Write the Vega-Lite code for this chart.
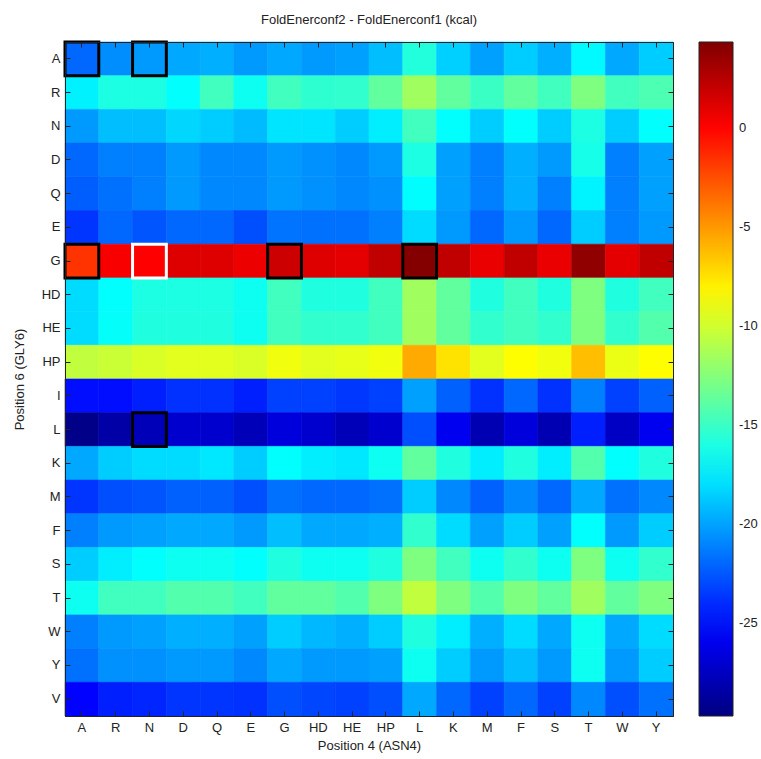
{
  "$schema": "https://vega.github.io/schema/vega-lite/v6.json",
  "autosize": "none",
  "width": 608,
  "height": 674,
  "padding": {"left": 65, "top": 42, "right": 88, "bottom": 43},
  "background": "white",
  "config": {
    "font": "Liberation Sans",
    "view": {"stroke": "#222222", "strokeWidth": 1},
    "axis": {"labelFont": "Liberation Sans", "titleFont": "Liberation Sans", "labelFontSize": 13, "titleFontSize": 13, "titleFontWeight": "normal", "labelColor": "#222222", "titleColor": "#222222", "domainColor": "#222222", "tickColor": "#222222", "tickSize": -5, "grid": false}
  },
  "title": {"text": "FoldEnerconf2 - FoldEnerconf1 (kcal)", "fontSize": 13, "fontWeight": "normal", "font": "Liberation Sans", "color": "#222222", "offset": 14},
  "datasets": {
    "cells": [
{"c":"A","r":"A","v":-22.0,"b":"black"},{"c":"R","r":"A","v":-20.7},{"c":"N","r":"A","v":-20.3,"b":"black"},{"c":"D","r":"A","v":-19.8},{"c":"Q","r":"A","v":-19.6},{"c":"E","r":"A","v":-20.3},{"c":"G","r":"A","v":-19.8},{"c":"HD","r":"A","v":-20.3},{"c":"HE","r":"A","v":-20.1},{"c":"HP","r":"A","v":-19.1},{"c":"L","r":"A","v":-15.8},{"c":"K","r":"A","v":-18.5},{"c":"M","r":"A","v":-20.1},{"c":"F","r":"A","v":-18.6},{"c":"S","r":"A","v":-19.6},{"c":"T","r":"A","v":-17.1},{"c":"W","r":"A","v":-19.8},{"c":"Y","r":"A","v":-18.6},
{"c":"A","r":"R","v":-17.4},{"c":"R","r":"R","v":-16.0},{"c":"N","r":"R","v":-16.0},{"c":"D","r":"R","v":-16.9},{"c":"Q","r":"R","v":-14.8},{"c":"E","r":"R","v":-16.5},{"c":"G","r":"R","v":-14.8},{"c":"HD","r":"R","v":-15.4},{"c":"HE","r":"R","v":-15.3},{"c":"HP","r":"R","v":-13.7},{"c":"L","r":"R","v":-11.6},{"c":"K","r":"R","v":-13.7},{"c":"M","r":"R","v":-15.0},{"c":"F","r":"R","v":-13.7},{"c":"S","r":"R","v":-14.8},{"c":"T","r":"R","v":-12.7},{"c":"W","r":"R","v":-14.8},{"c":"Y","r":"R","v":-14.4},
{"c":"A","r":"N","v":-20.3},{"c":"R","r":"N","v":-19.1},{"c":"N","r":"N","v":-19.1},{"c":"D","r":"N","v":-18.3},{"c":"Q","r":"N","v":-18.6},{"c":"E","r":"N","v":-19.2},{"c":"G","r":"N","v":-17.8},{"c":"HD","r":"N","v":-17.8},{"c":"HE","r":"N","v":-18.6},{"c":"HP","r":"N","v":-17.5},{"c":"L","r":"N","v":-14.8},{"c":"K","r":"N","v":-16.9},{"c":"M","r":"N","v":-18.6},{"c":"F","r":"N","v":-16.9},{"c":"S","r":"N","v":-18.6},{"c":"T","r":"N","v":-16.0},{"c":"W","r":"N","v":-18.6},{"c":"Y","r":"N","v":-16.9},
{"c":"A","r":"D","v":-22.0},{"c":"R","r":"D","v":-21.2},{"c":"N","r":"D","v":-21.2},{"c":"D","r":"D","v":-20.3},{"c":"Q","r":"D","v":-20.9},{"c":"E","r":"D","v":-20.9},{"c":"G","r":"D","v":-20.3},{"c":"HD","r":"D","v":-20.6},{"c":"HE","r":"D","v":-20.9},{"c":"HP","r":"D","v":-20.3},{"c":"L","r":"D","v":-16.0},{"c":"K","r":"D","v":-20.1},{"c":"M","r":"D","v":-21.2},{"c":"F","r":"D","v":-19.6},{"c":"S","r":"D","v":-20.3},{"c":"T","r":"D","v":-16.2},{"c":"W","r":"D","v":-21.2},{"c":"Y","r":"D","v":-20.1},
{"c":"A","r":"Q","v":-22.3},{"c":"R","r":"Q","v":-21.7},{"c":"N","r":"Q","v":-21.2},{"c":"D","r":"Q","v":-20.3},{"c":"Q","r":"Q","v":-20.9},{"c":"E","r":"Q","v":-20.9},{"c":"G","r":"Q","v":-20.3},{"c":"HD","r":"Q","v":-20.6},{"c":"HE","r":"Q","v":-20.9},{"c":"HP","r":"Q","v":-20.6},{"c":"L","r":"Q","v":-17.0},{"c":"K","r":"Q","v":-20.1},{"c":"M","r":"Q","v":-21.2},{"c":"F","r":"Q","v":-19.6},{"c":"S","r":"Q","v":-21.2},{"c":"T","r":"Q","v":-17.3},{"c":"W","r":"Q","v":-21.2},{"c":"Y","r":"Q","v":-20.1},
{"c":"A","r":"E","v":-23.7},{"c":"R","r":"E","v":-22.0},{"c":"N","r":"E","v":-22.6},{"c":"D","r":"E","v":-22.0},{"c":"Q","r":"E","v":-22.0},{"c":"E","r":"E","v":-22.8},{"c":"G","r":"E","v":-21.6},{"c":"HD","r":"E","v":-21.7},{"c":"HE","r":"E","v":-21.7},{"c":"HP","r":"E","v":-21.2},{"c":"L","r":"E","v":-18.1},{"c":"K","r":"E","v":-20.3},{"c":"M","r":"E","v":-22.0},{"c":"F","r":"E","v":-20.3},{"c":"S","r":"E","v":-22.0},{"c":"T","r":"E","v":-18.6},{"c":"W","r":"E","v":-21.2},{"c":"Y","r":"E","v":-20.3},
{"c":"A","r":"G","v":-1.6,"b":"black"},{"c":"R","r":"G","v":0.3},{"c":"N","r":"G","v":0.1,"b":"white"},{"c":"D","r":"G","v":1.2},{"c":"Q","r":"G","v":1.2},{"c":"E","r":"G","v":0.7},{"c":"G","r":"G","v":1.8,"b":"black"},{"c":"HD","r":"G","v":1.2},{"c":"HE","r":"G","v":1.0},{"c":"HP","r":"G","v":2.2},{"c":"L","r":"G","v":4.2,"b":"black"},{"c":"K","r":"G","v":2.2},{"c":"M","r":"G","v":0.8},{"c":"F","r":"G","v":2.2},{"c":"S","r":"G","v":0.8},{"c":"T","r":"G","v":3.8},{"c":"W","r":"G","v":1.0},{"c":"Y","r":"G","v":2.2},
{"c":"A","r":"HD","v":-18.1},{"c":"R","r":"HD","v":-16.9},{"c":"N","r":"HD","v":-16.0},{"c":"D","r":"HD","v":-16.0},{"c":"Q","r":"HD","v":-16.0},{"c":"E","r":"HD","v":-16.5},{"c":"G","r":"HD","v":-14.8},{"c":"HD","r":"HD","v":-15.9},{"c":"HE","r":"HD","v":-15.9},{"c":"HP","r":"HD","v":-14.8},{"c":"L","r":"HD","v":-11.6},{"c":"K","r":"HD","v":-13.7},{"c":"M","r":"HD","v":-15.9},{"c":"F","r":"HD","v":-14.8},{"c":"S","r":"HD","v":-15.9},{"c":"T","r":"HD","v":-12.7},{"c":"W","r":"HD","v":-15.9},{"c":"Y","r":"HD","v":-14.8},
{"c":"A","r":"HE","v":-18.1},{"c":"R","r":"HE","v":-16.8},{"c":"N","r":"HE","v":-15.9},{"c":"D","r":"HE","v":-15.9},{"c":"Q","r":"HE","v":-15.9},{"c":"E","r":"HE","v":-16.5},{"c":"G","r":"HE","v":-14.8},{"c":"HD","r":"HE","v":-15.3},{"c":"HE","r":"HE","v":-15.3},{"c":"HP","r":"HE","v":-14.8},{"c":"L","r":"HE","v":-11.6},{"c":"K","r":"HE","v":-13.7},{"c":"M","r":"HE","v":-15.3},{"c":"F","r":"HE","v":-14.8},{"c":"S","r":"HE","v":-15.3},{"c":"T","r":"HE","v":-12.7},{"c":"W","r":"HE","v":-15.3},{"c":"Y","r":"HE","v":-14.2},
{"c":"A","r":"HP","v":-10.5},{"c":"R","r":"HP","v":-10.2},{"c":"N","r":"HP","v":-9.7},{"c":"D","r":"HP","v":-9.4},{"c":"Q","r":"HP","v":-9.4},{"c":"E","r":"HP","v":-9.7},{"c":"G","r":"HP","v":-8.9},{"c":"HD","r":"HP","v":-9.4},{"c":"HE","r":"HP","v":-9.2},{"c":"HP","r":"HP","v":-8.9},{"c":"L","r":"HP","v":-5.6},{"c":"K","r":"HP","v":-7.5},{"c":"M","r":"HP","v":-9.4},{"c":"F","r":"HP","v":-8.4},{"c":"S","r":"HP","v":-8.9},{"c":"T","r":"HP","v":-6.3},{"c":"W","r":"HP","v":-9.1},{"c":"Y","r":"HP","v":-8.4},
{"c":"A","r":"I","v":-25.0},{"c":"R","r":"I","v":-25.0},{"c":"N","r":"I","v":-24.4},{"c":"D","r":"I","v":-23.8},{"c":"Q","r":"I","v":-23.8},{"c":"E","r":"I","v":-24.4},{"c":"G","r":"I","v":-23.3},{"c":"HD","r":"I","v":-23.3},{"c":"HE","r":"I","v":-23.6},{"c":"HP","r":"I","v":-23.3},{"c":"L","r":"I","v":-20.1},{"c":"K","r":"I","v":-22.2},{"c":"M","r":"I","v":-23.8},{"c":"F","r":"I","v":-22.0},{"c":"S","r":"I","v":-23.8},{"c":"T","r":"I","v":-21.2},{"c":"W","r":"I","v":-23.3},{"c":"Y","r":"I","v":-22.2},
{"c":"A","r":"L","v":-29.4},{"c":"R","r":"L","v":-28.4},{"c":"N","r":"L","v":-27.8,"b":"black"},{"c":"D","r":"L","v":-27.1},{"c":"Q","r":"L","v":-27.1},{"c":"E","r":"L","v":-27.8},{"c":"G","r":"L","v":-26.6},{"c":"HD","r":"L","v":-27.1},{"c":"HE","r":"L","v":-27.8},{"c":"HP","r":"L","v":-27.1},{"c":"L","r":"L","v":-22.8},{"c":"K","r":"L","v":-25.9},{"c":"M","r":"L","v":-28.0},{"c":"F","r":"L","v":-26.6},{"c":"S","r":"L","v":-28.0},{"c":"T","r":"L","v":-24.4},{"c":"W","r":"L","v":-27.4},{"c":"Y","r":"L","v":-25.9},
{"c":"A","r":"K","v":-19.8},{"c":"R","r":"K","v":-18.6},{"c":"N","r":"K","v":-18.1},{"c":"D","r":"K","v":-18.1},{"c":"Q","r":"K","v":-17.7},{"c":"E","r":"K","v":-18.6},{"c":"G","r":"K","v":-16.9},{"c":"HD","r":"K","v":-17.5},{"c":"HE","r":"K","v":-17.7},{"c":"HP","r":"K","v":-16.5},{"c":"L","r":"K","v":-13.7},{"c":"K","r":"K","v":-15.9},{"c":"M","r":"K","v":-17.5},{"c":"F","r":"K","v":-15.9},{"c":"S","r":"K","v":-17.5},{"c":"T","r":"K","v":-14.2},{"c":"W","r":"K","v":-16.9},{"c":"Y","r":"K","v":-15.9},
{"c":"A","r":"M","v":-23.7},{"c":"R","r":"M","v":-22.8},{"c":"N","r":"M","v":-22.6},{"c":"D","r":"M","v":-22.2},{"c":"Q","r":"M","v":-22.2},{"c":"E","r":"M","v":-22.8},{"c":"G","r":"M","v":-21.7},{"c":"HD","r":"M","v":-22.0},{"c":"HE","r":"M","v":-22.0},{"c":"HP","r":"M","v":-21.7},{"c":"L","r":"M","v":-18.6},{"c":"K","r":"M","v":-20.9},{"c":"M","r":"M","v":-22.2},{"c":"F","r":"M","v":-20.9},{"c":"S","r":"M","v":-22.0},{"c":"T","r":"M","v":-19.8},{"c":"W","r":"M","v":-21.7},{"c":"Y","r":"M","v":-20.9},
{"c":"A","r":"F","v":-21.2},{"c":"R","r":"F","v":-20.3},{"c":"N","r":"F","v":-20.1},{"c":"D","r":"F","v":-19.8},{"c":"Q","r":"F","v":-19.8},{"c":"E","r":"F","v":-20.3},{"c":"G","r":"F","v":-19.1},{"c":"HD","r":"F","v":-19.8},{"c":"HE","r":"F","v":-19.8},{"c":"HP","r":"F","v":-19.6},{"c":"L","r":"F","v":-15.3},{"c":"K","r":"F","v":-18.1},{"c":"M","r":"F","v":-20.1},{"c":"F","r":"F","v":-18.6},{"c":"S","r":"F","v":-20.1},{"c":"T","r":"F","v":-16.9},{"c":"W","r":"F","v":-20.3},{"c":"Y","r":"F","v":-18.6},
{"c":"A","r":"S","v":-18.6},{"c":"R","r":"S","v":-17.5},{"c":"N","r":"S","v":-16.9},{"c":"D","r":"S","v":-16.5},{"c":"Q","r":"S","v":-16.5},{"c":"E","r":"S","v":-16.9},{"c":"G","r":"S","v":-15.9},{"c":"HD","r":"S","v":-16.5},{"c":"HE","r":"S","v":-16.5},{"c":"HP","r":"S","v":-15.9},{"c":"L","r":"S","v":-12.7},{"c":"K","r":"S","v":-14.8},{"c":"M","r":"S","v":-16.5},{"c":"F","r":"S","v":-15.3},{"c":"S","r":"S","v":-16.5},{"c":"T","r":"S","v":-12.7},{"c":"W","r":"S","v":-16.5},{"c":"Y","r":"S","v":-15.3},
{"c":"A","r":"T","v":-16.5},{"c":"R","r":"T","v":-14.8},{"c":"N","r":"T","v":-14.8},{"c":"D","r":"T","v":-14.2},{"c":"Q","r":"T","v":-14.2},{"c":"E","r":"T","v":-14.8},{"c":"G","r":"T","v":-13.7},{"c":"HD","r":"T","v":-13.7},{"c":"HE","r":"T","v":-14.2},{"c":"HP","r":"T","v":-12.7},{"c":"L","r":"T","v":-10.5},{"c":"K","r":"T","v":-12.7},{"c":"M","r":"T","v":-14.2},{"c":"F","r":"T","v":-12.7},{"c":"S","r":"T","v":-13.7},{"c":"T","r":"T","v":-11.6},{"c":"W","r":"T","v":-13.7},{"c":"Y","r":"T","v":-12.7},
{"c":"A","r":"W","v":-21.2},{"c":"R","r":"W","v":-20.3},{"c":"N","r":"W","v":-20.1},{"c":"D","r":"W","v":-19.6},{"c":"Q","r":"W","v":-19.6},{"c":"E","r":"W","v":-20.1},{"c":"G","r":"W","v":-18.6},{"c":"HD","r":"W","v":-19.3},{"c":"HE","r":"W","v":-19.6},{"c":"HP","r":"W","v":-18.6},{"c":"L","r":"W","v":-15.9},{"c":"K","r":"W","v":-17.5},{"c":"M","r":"W","v":-19.6},{"c":"F","r":"W","v":-18.1},{"c":"S","r":"W","v":-19.8},{"c":"T","r":"W","v":-16.5},{"c":"W","r":"W","v":-19.8},{"c":"Y","r":"W","v":-18.1},
{"c":"A","r":"Y","v":-21.7},{"c":"R","r":"Y","v":-20.6},{"c":"N","r":"Y","v":-20.6},{"c":"D","r":"Y","v":-20.3},{"c":"Q","r":"Y","v":-20.3},{"c":"E","r":"Y","v":-20.9},{"c":"G","r":"Y","v":-19.8},{"c":"HD","r":"Y","v":-20.3},{"c":"HE","r":"Y","v":-20.3},{"c":"HP","r":"Y","v":-20.1},{"c":"L","r":"Y","v":-16.5},{"c":"K","r":"Y","v":-18.6},{"c":"M","r":"Y","v":-20.3},{"c":"F","r":"Y","v":-19.1},{"c":"S","r":"Y","v":-20.3},{"c":"T","r":"Y","v":-16.5},{"c":"W","r":"Y","v":-20.3},{"c":"Y","r":"Y","v":-18.6},
{"c":"A","r":"V","v":-25.4},{"c":"R","r":"V","v":-24.4},{"c":"N","r":"V","v":-24.2},{"c":"D","r":"V","v":-23.7},{"c":"Q","r":"V","v":-23.7},{"c":"E","r":"V","v":-23.8},{"c":"G","r":"V","v":-22.8},{"c":"HD","r":"V","v":-23.1},{"c":"HE","r":"V","v":-23.3},{"c":"HP","r":"V","v":-22.8},{"c":"L","r":"V","v":-19.8},{"c":"K","r":"V","v":-22.0},{"c":"M","r":"V","v":-23.3},{"c":"F","r":"V","v":-22.0},{"c":"S","r":"V","v":-23.3},{"c":"T","r":"V","v":-20.9},{"c":"W","r":"V","v":-22.8},{"c":"Y","r":"V","v":-21.7}
    ]
  },
  "data": {"name": "cells"},
  "layer": [
    {
      "mark": {"type": "rect", "strokeWidth": 0.6},
      "encoding": {
        "x": {"field": "c", "type": "nominal", "scale": {"domain": ["A","R","N","D","Q","E","G","HD","HE","HP","L","K","M","F","S","T","W","Y"], "paddingInner": 0, "paddingOuter": 0},
              "axis": {"orient": "bottom", "title": "Position 4 (ASN4)", "labelAngle": 0, "labelPadding": 10, "titlePadding": 5}},
        "y": {"field": "r", "type": "nominal", "scale": {"domain": ["A","R","N","D","Q","E","G","HD","HE","HP","I","L","K","M","F","S","T","W","Y","V"], "paddingInner": 0, "paddingOuter": 0},
              "axis": {"orient": "left", "title": "Position 6 (GLY6)", "labelPadding": 10, "titlePadding": 15}},
        "color": {"field": "v", "type": "quantitative",
          "scale": {"domain": [-29.7, -25.44, -16.93, -8.42, 0.09, 4.35], "range": ["#000080", "#0000ff", "#00ffff", "#ffff00", "#ff0000", "#800000"], "interpolate": "rgb"},
          "legend": {"orient": "none", "legendX": 634, "legendY": 0, "direction": "vertical", "title": null, "gradientLength": 674, "gradientThickness": 34, "gradientStrokeColor": "#222222", "gradientStrokeWidth": 1, "values": [0, -5, -10, -15, -20, -25], "labelExpr": "'' + datum.value", "labelFont": "Liberation Sans", "labelFontSize": 13, "labelColor": "#222222", "labelOffset": 6}},
        "stroke": {"field": "v", "type": "quantitative",
          "scale": {"domain": [-29.7, -25.44, -16.93, -8.42, 0.09, 4.35], "range": ["#000080", "#0000ff", "#00ffff", "#ffff00", "#ff0000", "#800000"], "interpolate": "rgb"},
          "legend": null}
      }
    },
    {
      "transform": [{"filter": "datum.b != null"}],
      "mark": {"type": "rect", "fill": null, "fillOpacity": 0, "strokeWidth": 3},
      "encoding": {
        "x": {"field": "c", "type": "nominal", "scale": {"domain": ["A","R","N","D","Q","E","G","HD","HE","HP","L","K","M","F","S","T","W","Y"]},
              "axis": {"orient": "top", "labels": false, "title": null}},
        "y": {"field": "r", "type": "nominal", "scale": {"domain": ["A","R","N","D","Q","E","G","HD","HE","HP","I","L","K","M","F","S","T","W","Y","V"]},
              "axis": {"orient": "right", "labels": false, "title": null}},
        "stroke": {"field": "b", "type": "nominal", "scale": null, "legend": null}
      }
    }
  ],
  "resolve": {"axis": {"x": "independent", "y": "independent"}, "scale": {"stroke": "independent"}}
}
